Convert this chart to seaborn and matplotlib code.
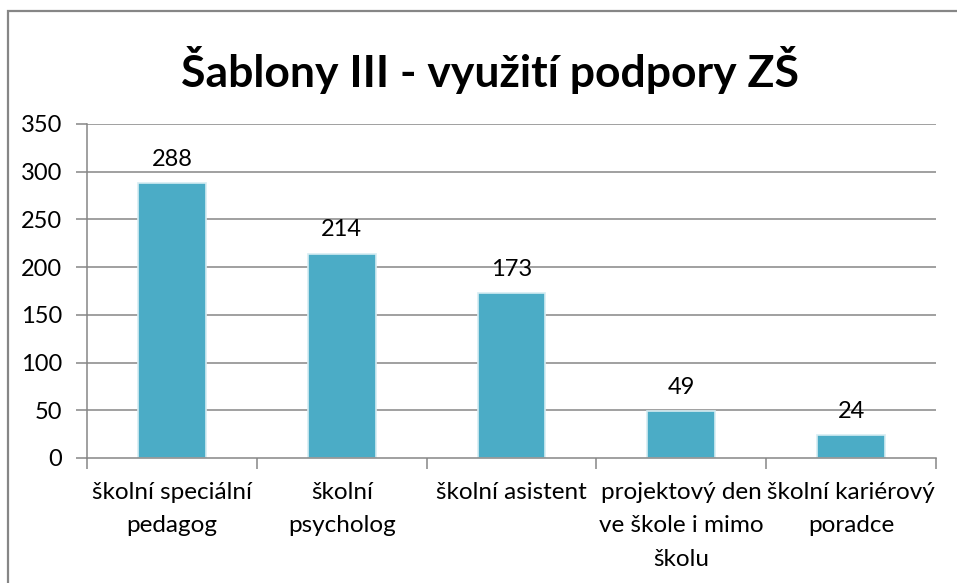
import matplotlib
matplotlib.use("Agg")
import matplotlib.pyplot as plt
import seaborn as sns
import pandas as pd
from matplotlib.patches import Rectangle

categories = [
    "školní speciální\npedagog",
    "školní\npsycholog",
    "školní asistent",
    "projektový den\nve škole i mimo\nškolu",
    "školní kariérový\nporadce",
]
values = [288, 214, 173, 49, 24]
y_ticks = [0, 50, 100, 150, 200, 250, 300, 350]
title = "Šablony III - využití podpory ZŠ"

sns.set_theme(style="white")
plt.rcParams["font.family"] = ["Lato", "DejaVu Sans"]

df = pd.DataFrame({"kategorie": categories, "pocet": values})

fig = plt.figure(figsize=(9.57, 5.83), dpi=100)
W, H = 957, 583
ax = fig.add_axes([87 / W, 1 - 458 / H, (936 - 87) / W, (458 - 124) / H])

sns.barplot(data=df, x="kategorie", y="pocet", color="#4BACC6", width=0.4,
            saturation=1, ax=ax, edgecolor="#D5ECF2", linewidth=1.2, zorder=3)

ax.set_ylim(0, 350)
ax.set_xlim(-0.5, len(categories) - 0.5)
ax.set_yticks(y_ticks)
ax.set_yticklabels([str(v) for v in y_ticks], fontsize=17, color="black")
ax.set_xlabel("")
ax.set_ylabel("")

grid_c = "#868686"
for v in y_ticks[1:]:
    ax.axhline(v, color=grid_c, lw=1.1, zorder=1)

for s in ["top", "right"]:
    ax.spines[s].set_visible(False)
for s in ["left", "bottom"]:
    ax.spines[s].set_color(grid_c)
    ax.spines[s].set_linewidth(1.1)
    ax.spines[s].set_zorder(4)

ax.tick_params(axis="y", which="both", left=True, length=8, width=1.1,
               color=grid_c, pad=10, direction="out")

# category boundary ticks on the x axis, labels centred between them
ax.set_xticks([i - 0.5 for i in range(len(categories) + 1)], minor=False)
ax.set_xticklabels([""] * (len(categories) + 1))
ax.tick_params(axis="x", which="major", bottom=True, length=8, width=1.1,
               color=grid_c, direction="out")
ax.set_xticks(range(len(categories)), minor=True)
ax.set_xticklabels(categories, minor=True, fontsize=17.5, color="black",
                   linespacing=1.75)
for lbl in ax.get_xticklabels(minor=True):
    lbl.set_multialignment("center")
ax.tick_params(axis="x", which="minor", bottom=False, length=0, pad=17)

for i, v in enumerate(values):
    ax.text(i, v + 14, str(v), ha="center", va="bottom", fontsize=17,
            color="black", zorder=5)

fig.text(490 / W, 1 - 70 / H, title, ha="center", va="center",
         fontsize=32, fontweight="bold", color="black")

# chart area frame
fig.patches.append(Rectangle((8 / W, -0.05), 1.1, 1 - 11 / H + 0.05,
                             transform=fig.transFigure, fill=False,
                             edgecolor="#868686", lw=1.6))

fig.savefig("out.png", dpi=100)
